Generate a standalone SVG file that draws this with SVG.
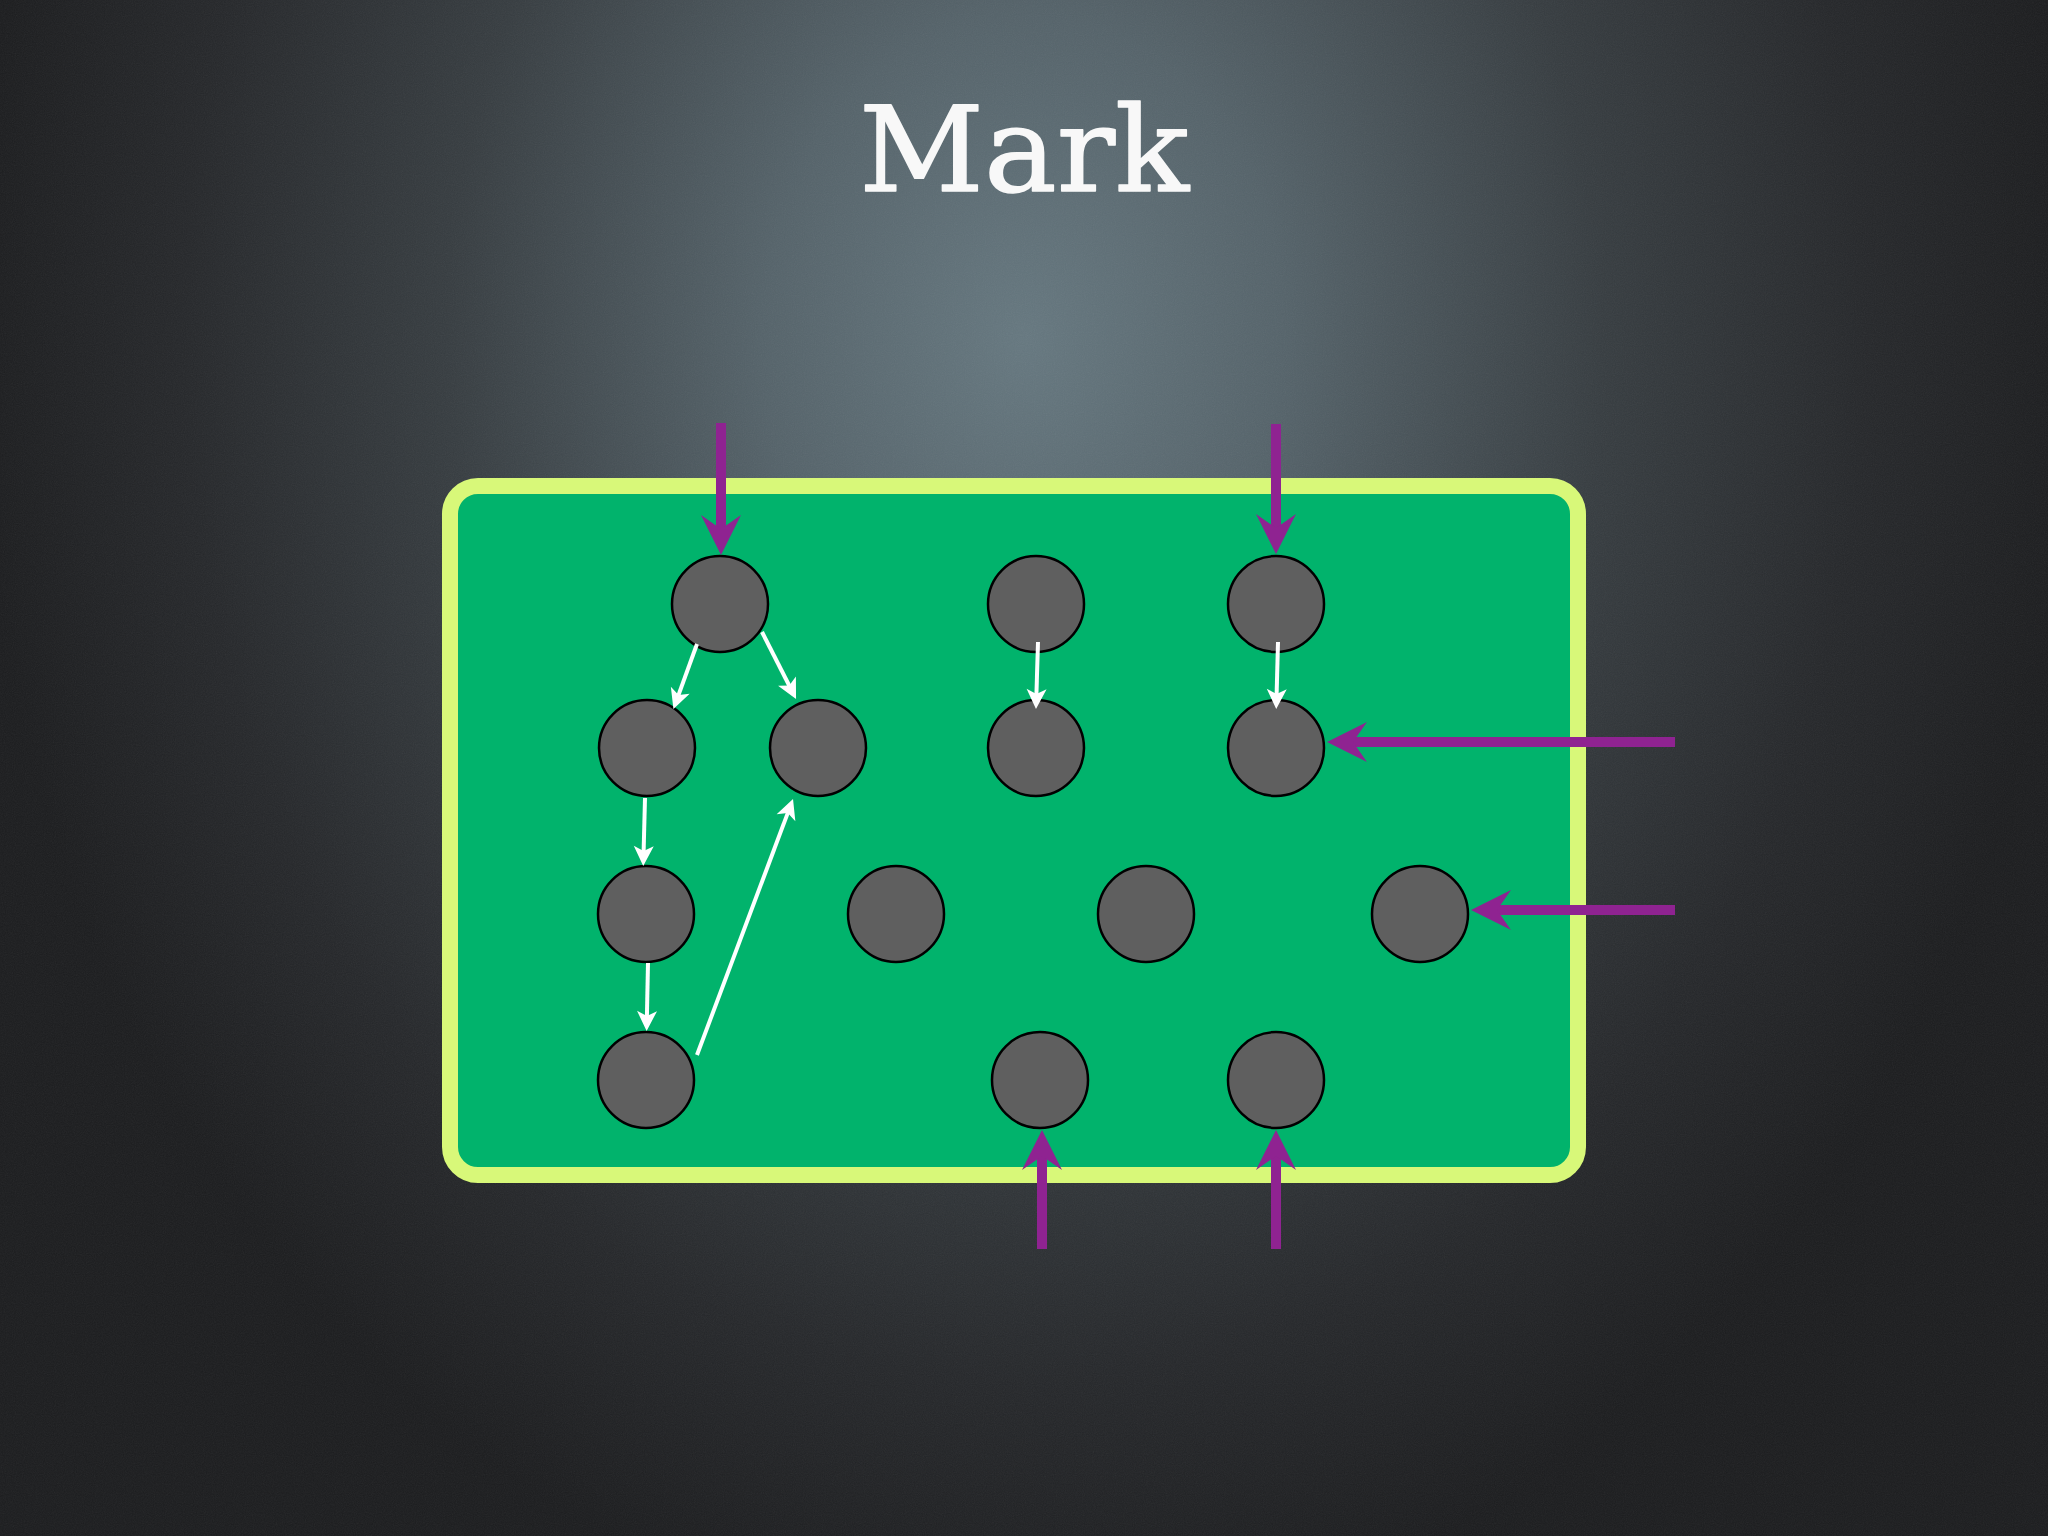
<svg xmlns="http://www.w3.org/2000/svg" width="2048" height="1536" viewBox="0 0 2048 1536">
<defs>
<radialGradient id="bg" gradientUnits="userSpaceOnUse" cx="1024" cy="340" r="1000" gradientTransform="translate(1024 340) scale(1.05 1.3) translate(-1024 -340)">
<stop offset="0" stop-color="#667880"/>
<stop offset="0.25" stop-color="#55636a"/>
<stop offset="0.55" stop-color="#373d41"/>
<stop offset="0.8" stop-color="#26282b"/>
<stop offset="1" stop-color="#1c1d1f"/>
</radialGradient>
<filter id="grain" x="0" y="0" width="100%" height="100%">
<feTurbulence type="fractalNoise" baseFrequency="0.9" numOctaves="2" seed="3" result="n"/>
<feColorMatrix type="saturate" values="0"/>
</filter>
<marker id="ph" markerUnits="userSpaceOnUse" orient="auto" refX="0" refY="0" markerWidth="80" markerHeight="80" viewBox="-40 -40 80 80" overflow="visible">
<path d="M-14,-20 L26,0 L-14,20 L0,0 Z" fill="#8f2391"/>
</marker>
<marker id="wh" markerUnits="userSpaceOnUse" orient="auto" refX="0" refY="0" markerWidth="40" markerHeight="40" viewBox="-20 -20 40 40" overflow="visible">
<path d="M-6,-10 L14,0 L-6,10 L-1,0 Z" fill="#ffffff"/>
</marker>
</defs>
<style>
.node{fill:#5f5f5f;stroke:#000;stroke-width:2.5}
.p{stroke:#8f2391;stroke-width:10;fill:none;marker-end:url(#ph)}
.w{stroke:#fff;stroke-width:4;fill:none;marker-end:url(#wh)}
</style>
<rect width="2048" height="1536" fill="url(#bg)"/>
<rect width="2048" height="1536" filter="url(#grain)" opacity="0.07"/>
<text x="1024" y="191" text-anchor="middle" font-family="DejaVu Serif, serif" font-size="118" fill="#f8f8f8" stroke="#f8f8f8" stroke-width="1.5" stroke-linejoin="round" textLength="330" lengthAdjust="spacingAndGlyphs">Mark</text>
<g id="frame">
<rect x="450" y="486" width="1128" height="689" rx="28" ry="28" fill="#01b36c" stroke="#d8f879" stroke-width="16"/>
</g>
<g id="n1"><circle class="node" cx="720" cy="604" r="48"/></g>
<g id="n2"><circle class="node" cx="1036" cy="604" r="48"/></g>
<g id="n3"><circle class="node" cx="1276" cy="604" r="48"/></g>
<g id="n4"><circle class="node" cx="647" cy="748" r="48"/></g>
<g id="n5"><circle class="node" cx="818" cy="748" r="48"/></g>
<g id="n6"><circle class="node" cx="1036" cy="748" r="48"/></g>
<g id="n7"><circle class="node" cx="1276" cy="748" r="48"/></g>
<g id="n8"><circle class="node" cx="646" cy="914" r="48"/></g>
<g id="n9"><circle class="node" cx="896" cy="914" r="48"/></g>
<g id="n10"><circle class="node" cx="1146" cy="914" r="48"/></g>
<g id="n11"><circle class="node" cx="1420" cy="914" r="48"/></g>
<g id="n12"><circle class="node" cx="646" cy="1080" r="48"/></g>
<g id="n13"><circle class="node" cx="1040" cy="1080" r="48"/></g>
<g id="n14"><circle class="node" cx="1276" cy="1080" r="48"/></g>
<g id="connectors">
<line class="p" x1="721" y1="423" x2="721" y2="529"/>
<line class="p" x1="1276" y1="424" x2="1276" y2="528"/>
<line class="p" x1="1675" y1="742" x2="1353" y2="742"/>
<line class="p" x1="1675" y1="910" x2="1497" y2="910"/>
<line class="p" x1="1042" y1="1249" x2="1042" y2="1156"/>
<line class="p" x1="1276" y1="1249" x2="1276" y2="1156"/>
<line class="w" x1="697" y1="644" x2="678.2" y2="695.9"/>
<line class="w" x1="762" y1="632" x2="789.7" y2="686.5"/>
<line class="w" x1="645" y1="798" x2="643.6" y2="852"/>
<line class="w" x1="648" y1="963" x2="646.9" y2="1017"/>
<line class="w" x1="697" y1="1055" x2="788.1" y2="812.1"/>
<line class="w" x1="1038" y1="642" x2="1036.4" y2="695"/>
<line class="w" x1="1278" y1="642" x2="1276.6" y2="695"/>
</g>
</svg>
